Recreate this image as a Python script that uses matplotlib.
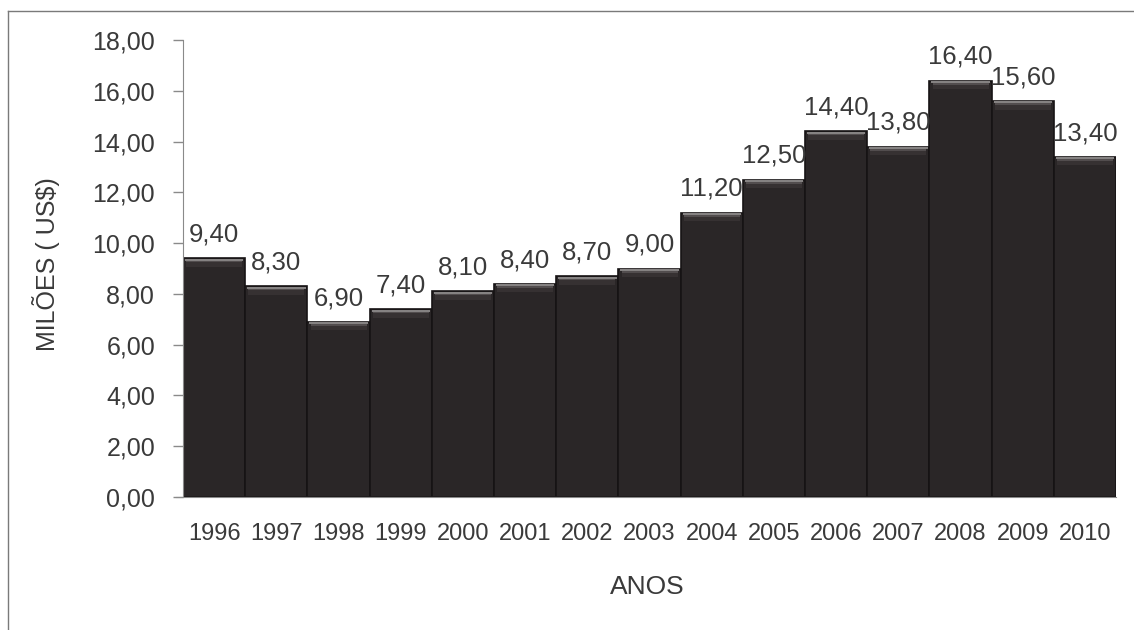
import numpy as np
import matplotlib.pyplot as plt
from matplotlib.lines import Line2D

plt.rcParams['font.family'] = ['Liberation Sans', 'DejaVu Sans']

anos = ['1996', '1997', '1998', '1999', '2000', '2001', '2002', '2003',
        '2004', '2005', '2006', '2007', '2008', '2009', '2010']
valores = [9.40, 8.30, 6.90, 7.40, 8.10, 8.40, 8.70, 9.00,
           11.20, 12.50, 14.40, 13.80, 16.40, 15.60, 13.40]

txt = '#3a3a3a'
x = np.arange(len(anos))
v = np.array(valores)

fig = plt.figure(figsize=(11.34, 6.3), dpi=100)
ax = fig.add_axes([0.1614, 0.2111, 0.8228, 0.7254])

# dark bars with a bevelled top edge
ax.bar(x, v, width=1.0, color='#2a2627', edgecolor='#161314', linewidth=1.2, zorder=2)
ax.bar(x, 0.32, bottom=v - 0.34, width=0.9, color='#363132', linewidth=0, zorder=3)
ax.bar(x, 0.08, bottom=v - 0.10, width=0.94, color='#858282', linewidth=0, zorder=4)
ax.bar(x, 0.06, bottom=v - 0.16, width=0.9, color='#524d4e', linewidth=0, zorder=4)

for xi, val in zip(x, v):
    ax.annotate(f'{val:.2f}'.replace('.', ','), (xi, val), xytext=(0, 12),
                textcoords='offset points', ha='center', va='baseline',
                fontsize=18.5, color=txt, zorder=5)

ax.set_xlim(-0.5, len(anos) - 0.5)
ax.set_ylim(0, 18)
ax.set_yticks(np.arange(0, 19, 2))
ax.set_yticklabels([f'{t:.2f}'.replace('.', ',') for t in np.arange(0, 19, 2)])
ax.set_xticks(x)
ax.set_xticklabels(anos)

for s in ['top', 'right']:
    ax.spines[s].set_visible(False)
ax.spines['left'].set_color('#8a8a8a')
ax.spines['bottom'].set_color('#8a8a8a')
ax.spines['bottom'].set_bounds(-0.61, len(anos) - 0.5)
ax.tick_params(axis='y', length=7, width=1, color='#8a8a8a', pad=13,
               labelsize=18, labelcolor=txt)
ax.tick_params(axis='x', length=0, pad=19, labelsize=17, labelcolor=txt)

ax.set_ylabel('MILÕES ( US$)', fontsize=18, color=txt)
ax.yaxis.set_label_coords(-0.132, 0.51)
fig.text(0.571, (630 - 587) / 630, 'ANOS', ha='center', va='center',
         fontsize=19, color=txt)

# outer frame (top and left edges)
fig.add_artist(Line2D([8 / 1134, 1.0], [1 - 11 / 630, 1 - 11 / 630],
                      transform=fig.transFigure, color='#7a7a7a', linewidth=1))
fig.add_artist(Line2D([8 / 1134, 8 / 1134], [0, 1 - 11 / 630],
                      transform=fig.transFigure, color='#7a7a7a', linewidth=1))

fig.savefig('out.png', dpi=100)
